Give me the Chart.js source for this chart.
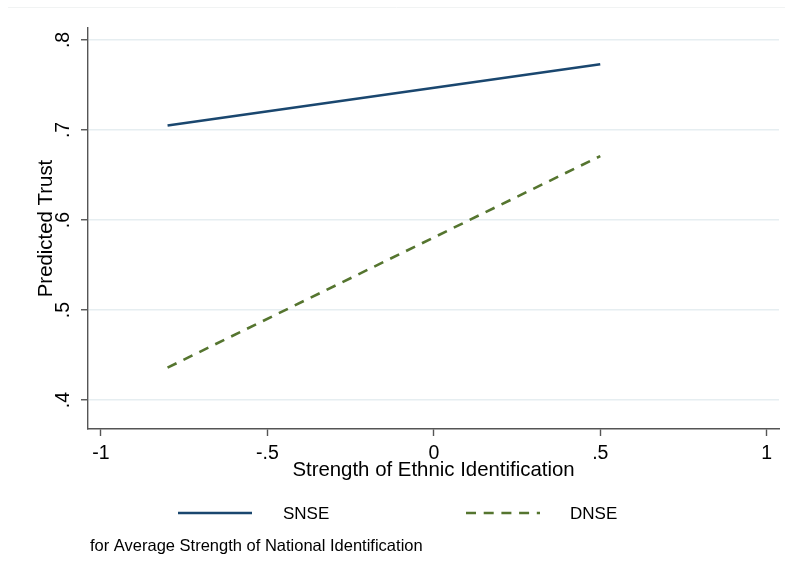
<!DOCTYPE html>
<html>
<head>
<meta charset="utf-8">
<script src="https://cdn.jsdelivr.net/npm/chart.js@4/dist/chart.umd.min.js"></script>
<style>
  html, body { margin: 0; padding: 0; background: #ffffff; }
  #wrap { width: 785px; height: 575px; }
</style>
</head>
<body>
<div id="wrap"><canvas id="c" width="785" height="575"></canvas></div>
<script>
// Predicted trust by strength of ethnic identification
const ethnicId = [-0.8, 0.5];
const snseTrust = [0.705, 0.773];
const dnseTrust = [0.436, 0.671];
const seriesNames = ['SNSE', 'DNSE'];
const xTickValues = [-1, -0.5, 0, 0.5, 1];
const yTickValues = [0.4, 0.5, 0.6, 0.7, 0.8];
const xTitle = 'Strength of Ethnic Identification';
const yTitle = 'Predicted Trust';
const noteText = 'for Average Strength of National Identification';

const FONT = 'Helvetica, "Liberation Sans", Arial, sans-serif';
const NAVY = '#1a476f';
const GREEN = '#55752f';
const AXIS = '#555555';
const GRID = '#e6eef1';

// Stata-style numbers: drop the leading zero (".5", "-.5")
function stataNum(v) {
  if (v === 0) return '0';
  return String(v).replace(/^(-?)0\./, '$1.');
}

const toPoints = ys => ethnicId.map((x, i) => ({ x, y: ys[i] }));

// Faint outer frame line along the top of the graph region
const framePlugin = {
  id: 'frame',
  beforeDraw(chart) {
    const ctx = chart.ctx;
    ctx.save();
    ctx.strokeStyle = '#f1f3f3';
    ctx.lineWidth = 1;
    ctx.beginPath();
    ctx.moveTo(8, 7.5);
    ctx.lineTo(785, 7.5);
    ctx.stroke();
    ctx.restore();
  }
};

// Legend row and note under the plot, drawn from the dataset styles
const legendPlugin = {
  id: 'stataLegend',
  afterDraw(chart) {
    const ctx = chart.ctx;
    const slots = [
      { x0: 178, x1: 252, tx: 283 },
      { x0: 466, x1: 540, tx: 570 }
    ];
    const ly = 513;
    ctx.save();
    chart.data.datasets.forEach((ds, i) => {
      const s = slots[i];
      ctx.beginPath();
      ctx.strokeStyle = ds.borderColor;
      ctx.lineWidth = ds.borderWidth;
      ctx.setLineDash(ds.borderDash || []);
      ctx.moveTo(s.x0, ly);
      ctx.lineTo(s.x1, ly);
      ctx.stroke();
      ctx.setLineDash([]);
      ctx.fillStyle = '#000';
      ctx.font = '17px ' + FONT;
      ctx.textAlign = 'left';
      ctx.textBaseline = 'middle';
      ctx.fillText(ds.label, s.tx, ly + 1);
    });
    ctx.font = '16.5px ' + FONT;
    ctx.fillStyle = '#000';
    ctx.textAlign = 'left';
    ctx.textBaseline = 'middle';
    ctx.fillText(noteText, 90, 546);
    ctx.restore();
  }
};

new Chart(document.getElementById('c'), {
  type: 'line',
  data: {
    datasets: [
      {
        label: seriesNames[0],
        data: toPoints(snseTrust),
        borderColor: NAVY,
        borderWidth: 2.6,
        pointRadius: 0,
        tension: 0,
        fill: false
      },
      {
        label: seriesNames[1],
        data: toPoints(dnseTrust),
        borderColor: GREEN,
        borderWidth: 2.6,
        borderDash: [10, 7.7],
        pointRadius: 0,
        tension: 0,
        fill: false
      }
    ]
  },
  options: {
    responsive: false,
    animation: false,
    devicePixelRatio: 1,
    layout: { padding: { left: 0, top: 28, right: 6, bottom: 91 } },
    plugins: {
      legend: { display: false },
      tooltip: { enabled: false }
    },
    scales: {
      x: {
        type: 'linear',
        min: -1.039,
        max: 1.037,
        afterBuildTicks: s => { s.ticks = xTickValues.map(v => ({ value: v })); },
        afterFit: s => { s.height = 55; },
        border: { display: true, color: AXIS, width: 1.4 },
        grid: { drawOnChartArea: false, drawTicks: true, tickLength: 7, tickColor: AXIS, tickWidth: 1.4 },
        ticks: {
          color: '#000',
          font: { family: FONT, size: 19.5 },
          padding: 6,
          maxRotation: 0,
          minRotation: 0,
          callback: v => stataNum(v)
        },
        title: {
          display: true,
          text: xTitle,
          color: '#000',
          font: { family: FONT, size: 20.4 },
          padding: { top: 0, bottom: 1 }
        }
      },
      y: {
        type: 'linear',
        min: 0.3678,
        max: 0.8133,
        afterBuildTicks: s => { s.ticks = yTickValues.map(v => ({ value: v })); },
        afterFit: s => { s.width = 88; },
        border: { display: true, color: AXIS, width: 1.4 },
        grid: { color: GRID, lineWidth: 1.5, drawTicks: true, tickLength: 7, tickColor: AXIS, tickWidth: 1.4 },
        ticks: {
          color: '#000',
          font: { family: FONT, size: 19.5 },
          padding: 9,
          minRotation: 90,
          maxRotation: 90,
          crossAlign: 'center',
          callback: v => stataNum(v)
        },
        title: {
          display: true,
          text: yTitle,
          color: '#000',
          font: { family: FONT, size: 20.4 },
          padding: { top: 34, bottom: 0 }
        }
      }
    }
  },
  plugins: [framePlugin, legendPlugin]
});
</script>
</body>
</html>
